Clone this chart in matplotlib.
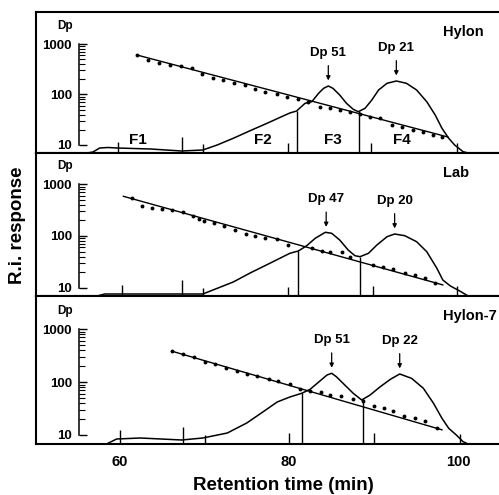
import matplotlib
matplotlib.use('Agg')
import matplotlib.pyplot as plt
import matplotlib.ticker as mticker
import numpy as np

plt.rcParams['font.family'] = ['Liberation Sans', 'DejaVu Sans']
plt.rcParams['font.weight'] = 'bold'

# ---------------- data ----------------
samples = ['Hylon', 'Lab', 'Hylon-7']

# R.I. chromatograms: retention time (min) and response (arbitrary units)
ri_t_hylon = [56.1, 56.8, 57.6, 58.6, 59.6, 63.6, 67.3, 69.8, 71.5, 73.4, 75.4, 77.4, 79.3, 80.1,
              80.9, 81.9, 82.7, 83.5, 84.1, 84.65, 85.2, 86.0, 86.8, 87.6, 88.2, 89.0, 89.8,
              90.6, 91.6, 92.7, 93.9, 95.1, 96.3, 97.3, 98.1, 98.9, 99.6, 100.6, 101.2]
ri_h_hylon = [0, 1, 5, 5.5, 5, 4, 2, 3, 8, 14.7, 22.3, 29.7, 37, 40,
              42, 49.7, 51.3, 59.7, 64.7, 67, 64.7, 58, 49.7, 43.7, 41.3, 44.7, 53,
              63, 69.7, 72, 69.7, 63, 51.3, 38, 24.7, 14.7, 8, 1.3, 0]

ri_t_lab = [57.3, 58.2, 63.0, 69.8, 71.0, 73.4, 75.4, 77.8, 80.1, 81.1, 82.1, 83.1, 84.3, 85.05,
            86.0, 87.0, 87.8, 88.4, 89.4, 90.4, 91.6, 92.5, 93.7, 95.1, 96.3, 97.5, 98.2,
            99.1, 100.2, 101.2]
ri_h_lab = [0, 2, 2, 2, 6, 14, 23, 33, 42.7, 45, 50.3, 57.7, 63.7, 62.7,
            56, 46, 40.3, 39.3, 42.7, 51, 59.3, 62, 60.3, 54.3, 44.3, 27.7, 16,
            10, 5, 0]

ri_t_h7 = [58.4, 59.6, 62.4, 67.3, 69.8, 72.7, 75.0, 76.9, 78.6, 80.1, 81.5, 82.5, 83.7, 84.5,
           85.05, 85.6, 86.6, 87.6, 88.6, 89.6, 90.8, 92.0, 93.1, 94.5, 95.9, 97.1, 98.1,
           98.9, 99.8, 100.6, 101.2]
ri_h_h7 = [0, 5, 6, 4, 6, 11, 21, 32, 42, 47, 50.7, 54.7, 63.3, 69,
           70.7, 67.3, 59, 50.7, 44, 49, 57.3, 64.7, 70, 65.7, 55.7, 40.7, 25.7,
           15.7, 9, 2.3, 0]

# Dp calibration points (retention time, Dp)
cal_t_hylon = [62.0, 63.3, 64.6, 65.9, 67.2, 68.5, 69.7, 71.0, 72.2, 73.5, 74.8, 76.0, 77.2, 78.6,
               79.8, 81.1, 82.2, 83.7, 84.9, 86.0, 87.2, 88.4, 89.6, 90.8, 92.2, 93.4, 94.7,
               95.9, 97.0, 98.1]
cal_dp_hylon = [606, 482, 427, 384, 372, 330, 255, 215, 194, 169, 151, 127, 114, 102,
                90, 80, 71, 57, 53, 49, 46, 41, 36, 34, 25, 23, 20, 18.4, 15.8, 14.2]

cal_t_lab = [61.4, 62.6, 63.8, 65.0, 66.2, 67.5, 68.6, 69.3, 69.9, 71.1, 72.3, 73.6, 74.9, 76.0,
             77.2, 78.6, 79.9, 82.7, 83.9, 84.9, 86.3, 87.2, 89.9, 91.1, 92.3, 93.7, 94.9,
             96.1, 97.3]
cal_dp_lab = [536, 374, 342, 327, 313, 286, 239, 209, 191, 175, 153, 133, 107, 102,
              93, 89, 68, 59, 52, 50, 48, 40, 28, 25, 23, 19.4, 17.7, 15.5, 12.4]

cal_t_h7 = [66.1, 67.5, 68.8, 70.1, 71.2, 72.6, 73.8, 75.0, 76.2, 77.6, 78.7, 80.1, 81.3, 82.5,
            83.8, 84.9, 86.2, 87.6, 88.8, 90.0, 91.2, 92.3, 93.6, 94.9, 96.1, 97.5]
cal_dp_h7 = [386, 334, 297, 243, 222, 186, 161, 143, 129, 115, 103, 92, 75, 69,
             64, 58, 54, 48, 43, 36, 32, 28, 23, 21, 18, 13.4]

# fitted calibration lines (end points)
fit_t_hylon, fit_dp_hylon = [62.0, 98.8], [606, 14.4]
fit_t_lab, fit_dp_lab = [60.4, 98.2], [586, 11.3]
fit_t_h7, fit_dp_h7 = [66.1, 98.1], [386, 12.5]

# peaks (retention time, Dp label)
peak_t_hylon, peak_dp_hylon = [84.65, 92.7], [51, 21]
peak_t_lab, peak_dp_lab = [84.4, 92.5], [47, 20]
peak_t_h7, peak_dp_h7 = [85.05, 93.1], [51, 22]

# fraction cut points
cut_t_hylon = [80.9, 88.3]
cut_t_lab = [81.1, 88.4]
cut_t_h7 = [81.5, 88.7]

# fraction collection marks (time, mark height)
mark_t_hylon = [59.8, 67.3, 69.8, 79.9, 89.7, 99.9]
mark_h_hylon = [11, 16, 9, 10, 10, 10]
mark_t_lab = [60.2, 67.3, 69.8, 79.9, 89.9, 99.9]
mark_h_lab = [11, 16, 8, 9, 10, 10]
mark_t_h7 = [60.0, 67.4, 70.0, 80.0, 90.0, 100.2]
mark_h_h7 = [14, 17, 9, 11, 11, 10]

fraction_labels = ['F1', 'F2', 'F3', 'F4']
fraction_t = [62.1, 76.9, 85.2, 93.3]

x_ticks = [60, 80, 100]
dp_ticks = [10, 100, 1000]
dp_minor_ticks = [20, 30, 40, 50, 60, 70, 80, 90, 200, 300, 400, 500, 600, 700, 800, 900]

panels = [
    dict(name=samples[0], ri_t=ri_t_hylon, ri_h=ri_h_hylon, cal_t=cal_t_hylon, cal_dp=cal_dp_hylon,
         fit_t=fit_t_hylon, fit_dp=fit_dp_hylon, peak_t=peak_t_hylon, peak_dp=peak_dp_hylon,
         cut_t=cut_t_hylon, mark_t=mark_t_hylon, mark_h=mark_h_hylon),
    dict(name=samples[1], ri_t=ri_t_lab, ri_h=ri_h_lab, cal_t=cal_t_lab, cal_dp=cal_dp_lab,
         fit_t=fit_t_lab, fit_dp=fit_dp_lab, peak_t=peak_t_lab, peak_dp=peak_dp_lab,
         cut_t=cut_t_lab, mark_t=mark_t_lab, mark_h=mark_h_lab),
    dict(name=samples[2], ri_t=ri_t_h7, ri_h=ri_h_h7, cal_t=cal_t_h7, cal_dp=cal_dp_h7,
         fit_t=fit_t_h7, fit_dp=fit_dp_h7, peak_t=peak_t_h7, peak_dp=peak_dp_h7,
         cut_t=cut_t_h7, mark_t=mark_t_h7, mark_h=mark_h_h7),
]

# ---------------- layout ----------------
W, H = 499, 495
fig = plt.figure(figsize=(W / 100, H / 100), dpi=100)
panel_px = [(12, 153), (153, 296), (296, 444)]
dp_lims = [(6.94, 4305), (6.89, 4036), (6.74, 4255)]
left_px = 36
xlim = (50.06, 104.85)
dp_axis_x = 55.15

for i, (p, (ptop, pbot), dlim) in enumerate(zip(panels, panel_px, dp_lims)):
    ax = fig.add_axes([left_px / W, 1 - pbot / H, 1 - left_px / W, (pbot - ptop) / H])
    ax.set_xlim(*xlim)
    ax.set_ylim(0, pbot - ptop)
    ax.spines['right'].set_visible(False)
    for s in ['left', 'top', 'bottom']:
        ax.spines[s].set_linewidth(1.5)
    ax.set_yticks([])
    ax.tick_params(axis='x', length=0)
    if i == 2:
        ax.set_xticks(x_ticks)
        ax.set_xticklabels([str(v) for v in x_ticks], fontsize=10.5, fontweight='bold')
        ax.tick_params(axis='x', pad=8)
    else:
        ax.set_xticks([])

    # RI chromatogram
    ax.plot(p['ri_t'], p['ri_h'], color='k', lw=1.1, solid_joinstyle='round')
    cut_h = np.interp(p['cut_t'], p['ri_t'], p['ri_h'])
    ax.vlines(p['cut_t'], 0, cut_h, color='k', lw=1.0)
    ax.vlines(p['mark_t'], 0, p['mark_h'], color='k', lw=1.0)

    # peaks with Dp labels
    peak_h = np.interp(p['peak_t'], p['ri_t'], p['ri_h'])
    for pt, ph, dp in zip(p['peak_t'], peak_h, p['peak_dp']):
        ax.annotate(f'Dp {dp}', xy=(pt, ph), xytext=(0, 24), textcoords='offset points',
                    ha='center', va='center', fontsize=9.5, fontweight='bold',
                    arrowprops=dict(arrowstyle='-|>', color='k', lw=0.9, shrinkA=3, shrinkB=4,
                                    mutation_scale=6))

    if i == 0:
        for lab, ft in zip(fraction_labels, fraction_t):
            ax.text(ft, 13, lab, ha='center', va='center', fontsize=11, fontweight='bold')

    ax.text(0.88, 1 - 20 / (pbot - ptop), p['name'], transform=ax.transAxes,
            ha='left', va='center', fontsize=10.5, fontweight='bold')

    # Dp (log) axis
    axd = ax.twinx()
    axd.set_xlim(*xlim)
    axd.set_yscale('log')
    axd.set_ylim(*dlim)
    for s in ['right', 'top', 'bottom']:
        axd.spines[s].set_visible(False)
    axd.spines['left'].set_visible(True)
    axd.spines['left'].set_position(('data', dp_axis_x))
    axd.spines['left'].set_bounds(10, 1000)
    axd.spines['left'].set_linewidth(1.1)
    axd.yaxis.set_ticks_position('left')
    axd.yaxis.set_label_position('left')
    axd.yaxis.set_major_locator(mticker.FixedLocator(dp_ticks))
    axd.yaxis.set_major_formatter(mticker.FixedFormatter([str(v) for v in dp_ticks]))
    axd.yaxis.set_minor_locator(mticker.FixedLocator(dp_minor_ticks))
    axd.yaxis.set_minor_formatter(mticker.NullFormatter())
    for lbl in axd.get_yticklabels():
        lbl.set_fontsize(9.5)
        lbl.set_fontweight('bold')
    axd.tick_params(axis='y', which='major', direction='in', length=6, width=1.0, pad=5,
                    labelsize=9.5)
    axd.tick_params(axis='y', which='minor', direction='in', length=4.5, width=0.8)
    axd.annotate('Dp', xy=(53.5, 1000), xytext=(0, 13), textcoords='offset points',
                 ha='center', va='center', fontsize=8.5, fontweight='bold')

    axd.plot(p['fit_t'], p['fit_dp'], color='k', lw=1.0)
    axd.plot(p['cal_t'], p['cal_dp'], 'o', color='k', ms=2.8, mec='none')

fig.text(18 / W, 1 - 225 / H, 'R.i. response', rotation=90, ha='center', va='center',
         fontsize=13.5, fontweight='bold')
fig.text(283 / W, 1 - 485 / H, 'Retention time (min)', ha='center', va='center',
         fontsize=13.5, fontweight='bold')

fig.savefig('out.png', dpi=100)
